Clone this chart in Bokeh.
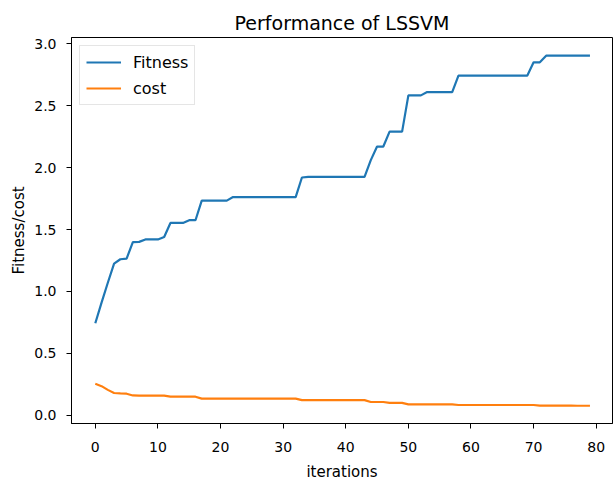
from bokeh.plotting import figure
from bokeh.models import Range1d, FixedTicker, NumeralTickFormatter
from bokeh.embed import file_html
from bokeh.resources import INLINE

iterations = list(range(80))

fitness = [0.743, 0.91, 1.07, 1.225, 1.26, 1.265, 1.398, 1.40, 1.42, 1.42,
           1.42, 1.44, 1.553, 1.553, 1.553, 1.575, 1.575, 1.733, 1.733, 1.733,
           1.733, 1.733, 1.762, 1.762, 1.762, 1.762, 1.762, 1.762, 1.762, 1.762,
           1.762, 1.762, 1.762, 1.92, 1.925, 1.925, 1.925, 1.925, 1.925, 1.925,
           1.925, 1.925, 1.925, 1.925, 2.06, 2.17, 2.17, 2.29, 2.29, 2.29,
           2.583, 2.583, 2.583, 2.61, 2.61, 2.61, 2.61, 2.61, 2.743, 2.743,
           2.743, 2.743, 2.743, 2.743, 2.743, 2.743, 2.743, 2.743, 2.743, 2.743,
           2.85, 2.85, 2.904, 2.904, 2.904, 2.904, 2.904, 2.904, 2.904, 2.904]

cost = [0.254, 0.235, 0.205, 0.18, 0.176, 0.174, 0.16, 0.158, 0.158, 0.158,
        0.158, 0.158, 0.15, 0.15, 0.15, 0.15, 0.15, 0.134, 0.134, 0.134,
        0.134, 0.134, 0.134, 0.134, 0.134, 0.134, 0.134, 0.134, 0.134, 0.134,
        0.134, 0.134, 0.134, 0.122, 0.122, 0.122, 0.122, 0.122, 0.122, 0.122,
        0.122, 0.122, 0.122, 0.122, 0.107, 0.107, 0.107, 0.10, 0.10, 0.10,
        0.088, 0.088, 0.088, 0.088, 0.088, 0.088, 0.088, 0.088, 0.083, 0.083,
        0.083, 0.083, 0.083, 0.083, 0.083, 0.083, 0.083, 0.083, 0.083, 0.083,
        0.083, 0.078, 0.078, 0.078, 0.078, 0.078, 0.078, 0.077, 0.077, 0.077]

x_ticks = [0, 10, 20, 30, 40, 50, 60, 70, 80]
y_ticks = [0.0, 0.5, 1.0, 1.5, 2.0, 2.5, 3.0]

FONT = "DejaVu Sans"

p = figure(width=613, height=483, output_backend="svg", toolbar_location=None,
           title="Performance of LSSVM",
           x_range=Range1d(-3.8, 82.6), y_range=Range1d(-0.0665, 3.0505),
           min_border_left=71, min_border_right=1, min_border_top=37,
           min_border_bottom=57)

p.line(iterations, fitness, line_color="#1f77b4", line_width=2.2, legend_label="Fitness")
p.line(iterations, cost, line_color="#ff7f0e", line_width=2.2, legend_label="cost")

p.title.text_font = FONT
p.title.text_font_size = "19px"
p.title.text_font_style = "normal"
p.title.text_color = "#000000"
p.title.align = "center"
p.title.standoff = 8

p.xgrid.visible = False
p.ygrid.visible = False
p.outline_line_color = "#000000"
p.outline_line_width = 1
p.background_fill_color = "white"
p.border_fill_color = "white"

for ax in (p.xaxis[0], p.yaxis[0]):
    ax.axis_line_color = "#000000"
    ax.major_tick_line_color = "#000000"
    ax.major_tick_out = 5
    ax.major_tick_in = 0
    ax.minor_tick_line_color = None
    ax.major_label_text_font = FONT
    ax.major_label_text_font_size = "14px"
    ax.major_label_text_color = "#000000"
    ax.axis_label_text_font = FONT
    ax.axis_label_text_font_size = "15px"
    ax.axis_label_text_font_style = "normal"
    ax.axis_label_text_color = "#000000"

p.xaxis[0].major_label_standoff = 13
p.yaxis[0].major_label_standoff = 10
p.xaxis[0].ticker = FixedTicker(ticks=x_ticks)
p.yaxis[0].ticker = FixedTicker(ticks=y_ticks)
p.yaxis[0].formatter = NumeralTickFormatter(format="0.0")
p.xaxis[0].axis_label = "iterations"
p.yaxis[0].axis_label = "Fitness/cost"
p.xaxis[0].axis_label_standoff = 8
p.yaxis[0].axis_label_standoff = 3

lg = p.legend[0]
lg.location = "top_left"
lg.margin = 8
lg.padding = 6
lg.spacing = 6
lg.glyph_width = 35
lg.glyph_height = 20
lg.label_height = 20
lg.label_standoff = 12
lg.label_text_font = FONT
lg.label_text_font_size = "16px"
lg.label_text_color = "#000000"
lg.border_line_color = "#cccccc"
lg.border_line_width = 1
lg.background_fill_color = "white"
lg.background_fill_alpha = 0.8

open("out.html", "w").write(file_html(p, INLINE))
